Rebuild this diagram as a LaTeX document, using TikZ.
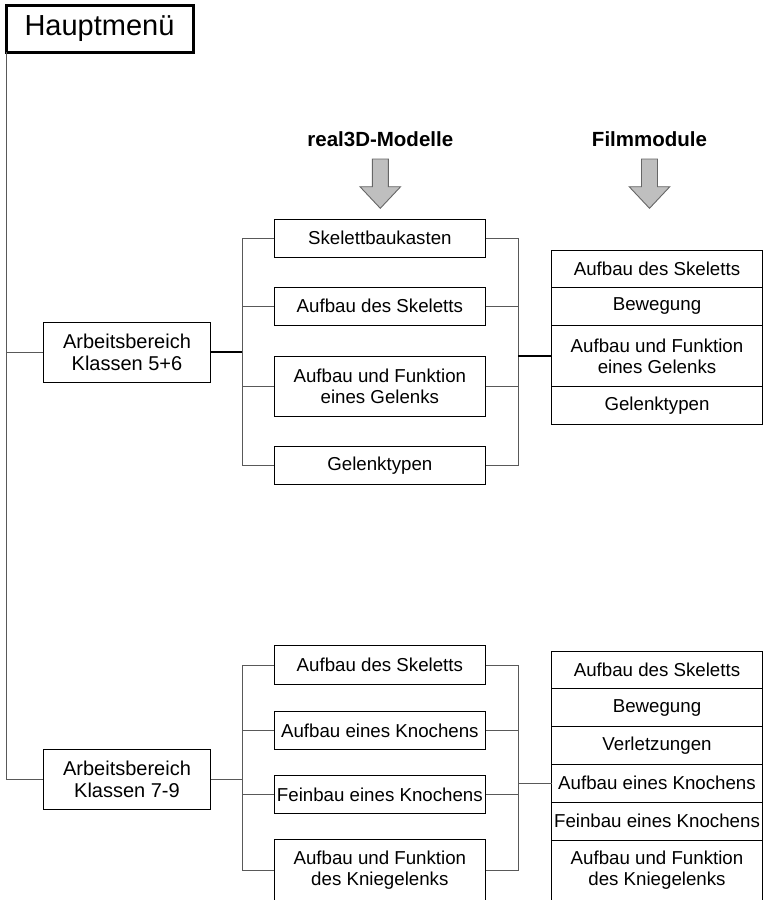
\documentclass[tikz,border=0pt]{standalone}
\usepackage{fontspec}
\setmainfont{Liberation Sans}
\begin{document}
\begin{tikzpicture}[x=1pt,y=-1pt,
  box/.style={draw=black, line width=1pt, inner sep=0pt, outer sep=0pt, align=center,
    font=\fontsize{18.7}{20.7}\selectfont},
  abox/.style={box, font=\fontsize{20}{21.4}\selectfont},
  mainbox/.style={draw=black, line width=3pt, inner sep=0pt, outer sep=0pt,
    font=\fontsize{29}{30}\selectfont},
  conn/.style={draw=black!65, line width=1pt},
  thickconn/.style={draw=black, line width=1.8pt},
  blockarrow/.style={fill=black!25, draw=black!60, line width=0.9pt, line join=miter},
  headtext/.style={anchor=base, font=\fontsize{20.5}{24}\selectfont\bfseries}
]
\useasboundingbox (0,0) rectangle (766,900);
\clip (0,0) rectangle (766,900);

% main menu
\node[mainbox, minimum width=187pt, minimum height=46.5pt] (hm) at (99.5,28.75) {Hauptmenü};

% headers and arrows
\node[headtext] (h1) at (380.3,146.7) {real3D-Modelle};
\node[headtext] (h2) at (649.5,146.7) {Filmmodule};
\draw[blockarrow, shift={(380.3,0)}] (-8,159) -- (8,159) -- (8,186.7) -- (20.3,186.7) -- (0,208.3) -- (-20.3,186.7) -- (-8,186.7) -- cycle;
\draw[blockarrow, shift={(649.5,0)}] (-8,159) -- (8,159) -- (8,186.7) -- (20.3,186.7) -- (0,208.3) -- (-20.3,186.7) -- (-8,186.7) -- cycle;

% ---------- Klassen 5+6 ----------
\node[abox, minimum width=167.4pt, minimum height=60pt] (a1) at (127,352.3) {Arbeitsbereich\\Klassen 5+6};

\node[box, minimum width=211.7pt, minimum height=38pt]   (s1) at (379.85,238.3) {Skelettbaukasten};
\node[box, minimum width=211.7pt, minimum height=38pt]   (s2) at (379.85,306.3) {Aufbau des Skeletts};
\node[box, minimum width=211.7pt, minimum height=60.7pt] (s3) at (379.85,386.35) {Aufbau und Funktion\\eines Gelenks};
\node[box, minimum width=211.7pt, minimum height=37.6pt] (s4) at (379.85,465.5) {Gelenktypen};

\node[box, minimum width=210.6pt, minimum height=36.6pt] (r1) at (657,269) {Aufbau des Skeletts};
\node[box, minimum width=210.6pt, minimum height=38.4pt] (r2) at (657,306.5) {Bewegung};
\node[box, minimum width=210.6pt, minimum height=61pt]   (r3) at (657,356.2) {Aufbau und Funktion\\eines Gelenks};
\node[box, minimum width=210.6pt, minimum height=37.3pt] (r4) at (657,405.35) {Gelenktypen};

\coordinate (bl1) at (242,352.3);
\coordinate (br1) at (518.3,356.2);

% ---------- Klassen 7-9 ----------
\node[abox, minimum width=167.4pt, minimum height=60pt] (a2) at (127,779.3) {Arbeitsbereich\\Klassen 7-9};

\node[box, minimum width=211.7pt, minimum height=38.8pt] (t1) at (379.85,665) {Aufbau des Skeletts};
\node[box, minimum width=211.7pt, minimum height=37.6pt] (t2) at (379.85,730.5) {Aufbau eines Knochens};
\node[box, minimum width=211.7pt, minimum height=37.6pt] (t3) at (379.85,794.5) {Feinbau eines Knochens};
\node[box, minimum width=211.7pt, minimum height=61.4pt] (t4) at (379.85,870) {Aufbau und Funktion\\des Kniegelenks};

\node[box, minimum width=210.6pt, minimum height=37.7pt] (u1) at (657,669.85) {Aufbau des Skeletts};
\node[box, minimum width=210.6pt, minimum height=38pt]   (u2) at (657,707.7) {Bewegung};
\node[box, minimum width=210.6pt, minimum height=37.6pt] (u3) at (657,745.5) {Verletzungen};
\node[box, minimum width=210.6pt, minimum height=38pt]   (u4) at (657,783.3) {Aufbau eines Knochens};
\node[box, minimum width=210.6pt, minimum height=37.7pt] (u5) at (657,821.15) {Feinbau eines Knochens};
\node[box, minimum width=210.6pt, minimum height=61pt]   (u6) at (657,870.5) {Aufbau und Funktion\\des Kniegelenks};

\coordinate (bl2) at (242,779.3);
\coordinate (br2) at (518.3,783.3);

% ---------- connectors ----------
\draw[conn] (hm.south west) -- (hm.south west |- a2.west) -- (a2.west);
\draw[conn] (hm.south west |- a1.west) -- (a1.west);

\draw[thickconn] (a1.east) -- (a1.east -| bl1);
\draw[conn] (s1.west) -- (s1.west -| bl1) -- (s4.west -| bl1) -- (s4.west);
\draw[conn] (s2.west) -- (s2.west -| bl1);
\draw[conn] (s3.west) -- (s3.west -| bl1);
\draw[conn] (s1.east) -- (s1.east -| br1) -- (s4.east -| br1) -- (s4.east);
\draw[conn] (s2.east) -- (s2.east -| br1);
\draw[conn] (s3.east) -- (s3.east -| br1);
\draw[thickconn] (br1 |- r3.west) -- (r3.west);

\draw[conn] (a2.east) -- (a2.east -| bl2);
\draw[conn] (t1.west) -- (t1.west -| bl2) -- (t4.west -| bl2) -- (t4.west);
\draw[conn] (t2.west) -- (t2.west -| bl2);
\draw[conn] (t3.west) -- (t3.west -| bl2);
\draw[conn] (t1.east) -- (t1.east -| br2) -- (t4.east -| br2) -- (t4.east);
\draw[conn] (t2.east) -- (t2.east -| br2);
\draw[conn] (t3.east) -- (t3.east -| br2);
\draw[conn] (br2 |- u4.west) -- (u4.west);
\end{tikzpicture}
\end{document}
